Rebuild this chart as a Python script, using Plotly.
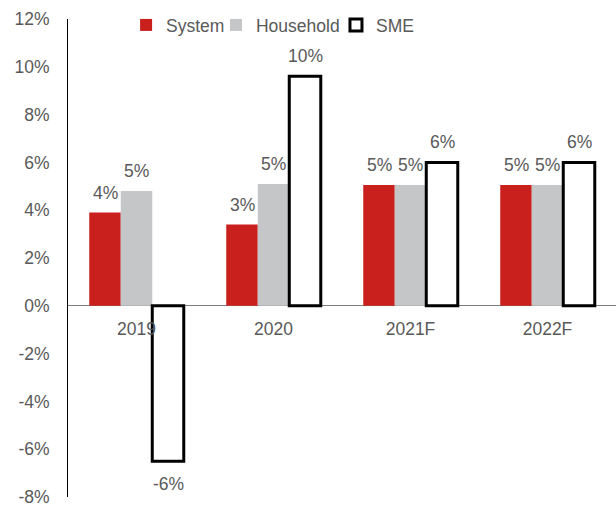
import plotly.graph_objects as go

categories = ["2019", "2020", "2021F", "2022F"]
system = [3.9, 3.4, 5.05, 5.05]
household = [4.8, 5.1, 5.05, 5.05]
sme = [-6.5, 9.6, 6.0, 6.0]
system_labels = ["4%", "3%", "5%", "5%"]
household_labels = ["5%", "5%", "5%", "5%"]
sme_labels = ["-6%", "10%", "6%", "6%"]
y_ticks = [-8, -6, -4, -2, 0, 2, 4, 6, 8, 10, 12]
y_ticktext = [f"{v}%" for v in y_ticks]

FONT = "Liberation Sans, Arial, Helvetica, sans-serif"
TXT = "#595959"
FS = 17.5

series = [
    ("System", system, system_labels, dict(color="#C9201D", line=dict(width=0)), "legend"),
    ("Household", household, household_labels, dict(color="#C5C6C8", line=dict(width=0)), "legend2"),
    ("SME", sme, sme_labels, dict(color="white", line=dict(width=3, color="black")), "legend3"),
]

fig = go.Figure()
annotations = []
bar_px = 31.5
for i, (name, vals, labels, marker, leg) in enumerate(series):
    fig.add_trace(go.Bar(name=name, x=categories, y=vals, marker=marker, legend=leg))
    for j, (v, t) in enumerate(zip(vals, labels)):
        annotations.append(dict(
            x=j, y=v, xref="x", yref="y", text=t, showarrow=False,
            xshift=(i - 1) * bar_px,
            yanchor="bottom" if v >= 0 else "top",
            yshift=8 if v >= 0 else -11,
            font=dict(size=FS, color=TXT, family=FONT),
        ))

leg_common = dict(orientation="h", xanchor="left", y=1.025, yanchor="top",
                  font=dict(size=FS, color=TXT, family=FONT),
                  itemwidth=30, bgcolor="rgba(0,0,0,0)")

fig.update_layout(
    width=616, height=510,
    margin=dict(l=68, r=0, t=19, b=13),
    paper_bgcolor="white", plot_bgcolor="white",
    barmode="group", bargap=0.31, bargroupgap=0,
    font=dict(family=FONT, size=FS, color=TXT),
    showlegend=True,
    legend=dict(x=0.106, **leg_common),
    legend2=dict(x=0.27, **leg_common),
    legend3=dict(x=0.489, **leg_common),
    annotations=annotations,
    xaxis=dict(type="category", categoryorder="array", categoryarray=categories,
               range=[-0.5, len(categories) - 0.5],
               anchor="free", position=0.4, showline=False, showgrid=False,
               ticks="", tickfont=dict(size=FS, color=TXT, family=FONT),
               ticklabelstandoff=11),
    yaxis=dict(range=[-8, 12], tickvals=y_ticks, ticktext=y_ticktext,
               showgrid=False, showline=True, linecolor="black", linewidth=1,
               zeroline=True, zerolinecolor="#7F7F7F", zerolinewidth=1,
               ticks="", ticklabelstandoff=14,
               tickfont=dict(size=FS, color=TXT, family=FONT)),
)

fig.write_html("out.html")
